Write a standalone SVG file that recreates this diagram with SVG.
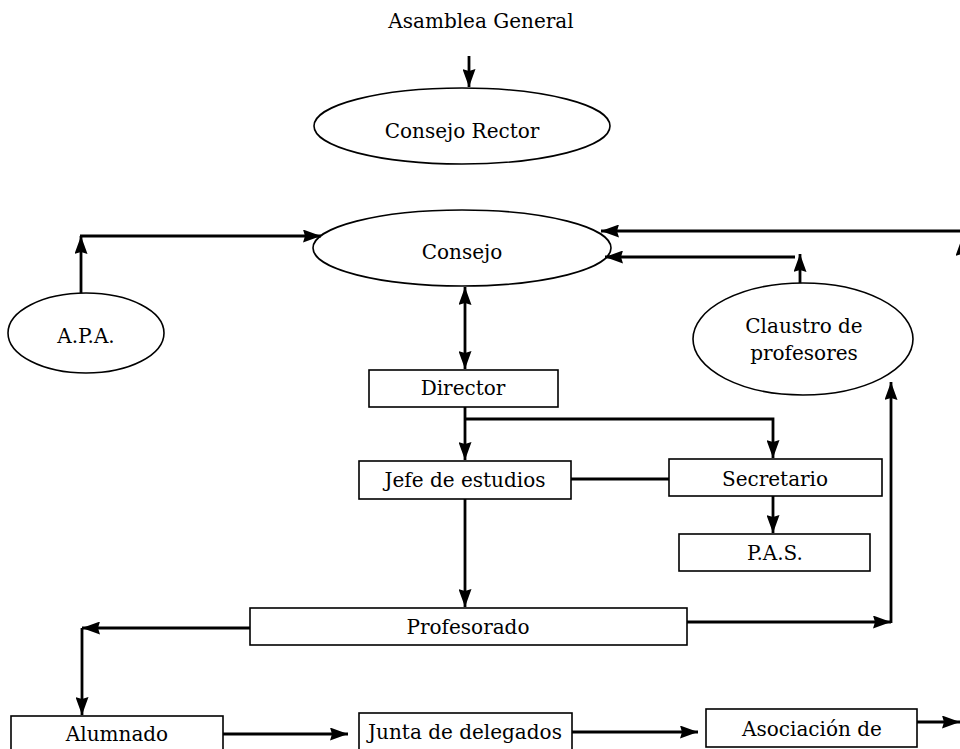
<svg xmlns="http://www.w3.org/2000/svg" width="960" height="749" viewBox="0 0 960 749">
<defs>
<marker id="arr" markerUnits="userSpaceOnUse" markerWidth="19" markerHeight="13" refX="18" refY="6.5" orient="auto-start-reverse" viewBox="0 0 19 13">
<path d="M0,0 L18,6.5 L0,13 L2,6.5 z" fill="#000"/>
</marker>
</defs>
<style>
text{font-family:"DejaVu Serif","Liberation Serif",serif;font-size:20px;fill:#000;text-anchor:middle}
.n{fill:#fff;stroke:#000;stroke-width:1.6}
.c{fill:none;stroke:#000;stroke-width:2.8}
.a{marker-end:url(#arr)}
</style>
<rect width="960" height="749" fill="#fff"/>
<g id="asamblea"><text x="481" y="28">Asamblea General</text></g>
<g id="consejo-rector"><ellipse class="n" cx="462" cy="126" rx="148" ry="38"/><text x="462" y="138">Consejo Rector</text></g>
<g id="consejo"><ellipse class="n" cx="462" cy="248" rx="149" ry="38"/><text x="462" y="259">Consejo</text></g>
<g id="apa"><ellipse class="n" cx="86" cy="333" rx="78" ry="40"/><text x="86" y="343">A.P.A.</text></g>
<g id="claustro"><ellipse class="n" cx="803" cy="339" rx="110" ry="56"/><text x="804" y="333">Claustro de</text><text x="804" y="360">profesores</text></g>
<g id="director"><rect class="n" x="369" y="370" width="189" height="37"/><text x="463" y="395">Director</text></g>
<g id="jefe"><rect class="n" x="359" y="461" width="212" height="38"/><text x="465" y="487">Jefe de estudios</text></g>
<g id="secretario"><rect class="n" x="669" y="459" width="213" height="37"/><text x="775" y="486">Secretario</text></g>
<g id="pas"><rect class="n" x="679" y="534" width="191" height="37"/><text x="775" y="560">P.A.S.</text></g>
<g id="profesorado"><rect class="n" x="250" y="608" width="437" height="37"/><text x="468" y="634">Profesorado</text></g>
<g id="alumnado"><rect class="n" x="11" y="716" width="212" height="40"/><text x="117" y="741">Alumnado</text></g>
<g id="junta"><rect class="n" x="359" y="713" width="213" height="40"/><text x="465" y="739">Junta de delegados</text></g>
<g id="asociacion"><rect class="n" x="706" y="709" width="211" height="38"/><text x="812" y="736">Asociación de</text></g>
<g id="connectors">
<line class="c a" x1="469" y1="56" x2="469" y2="87"/>
<line class="c a" x1="81" y1="293" x2="81" y2="236"/>
<line class="c a" x1="80" y1="236" x2="321" y2="236"/>
<line class="c a" x1="960" y1="231" x2="601" y2="231"/>
<line class="c a" x1="795" y1="257" x2="605" y2="257"/>
<line class="c a" x1="800" y1="283" x2="800" y2="254"/>
<line class="c a" x1="962" y1="275" x2="962" y2="238"/>
<line class="c" x1="465" y1="287" x2="465" y2="369" style="marker-start:url(#arr);marker-end:url(#arr)"/>
<line class="c a" x1="465" y1="407" x2="465" y2="460"/>
<polyline class="c a" points="465,419 773,419 773,458"/>
<line class="c" x1="571" y1="479" x2="669" y2="479"/>
<line class="c a" x1="773" y1="496" x2="773" y2="533"/>
<line class="c a" x1="465" y1="499" x2="465" y2="607"/>
<line class="c a" x1="250" y1="628" x2="82" y2="628"/>
<line class="c a" x1="82" y1="628" x2="82" y2="715"/>
<line class="c a" x1="687" y1="622" x2="891" y2="622"/>
<line class="c a" x1="891" y1="623" x2="891" y2="382"/>
<line class="c a" x1="223" y1="734" x2="348" y2="734"/>
<line class="c a" x1="572" y1="732" x2="698" y2="732"/>
<line class="c a" x1="917" y1="722" x2="960" y2="722"/>
</g>
</svg>
